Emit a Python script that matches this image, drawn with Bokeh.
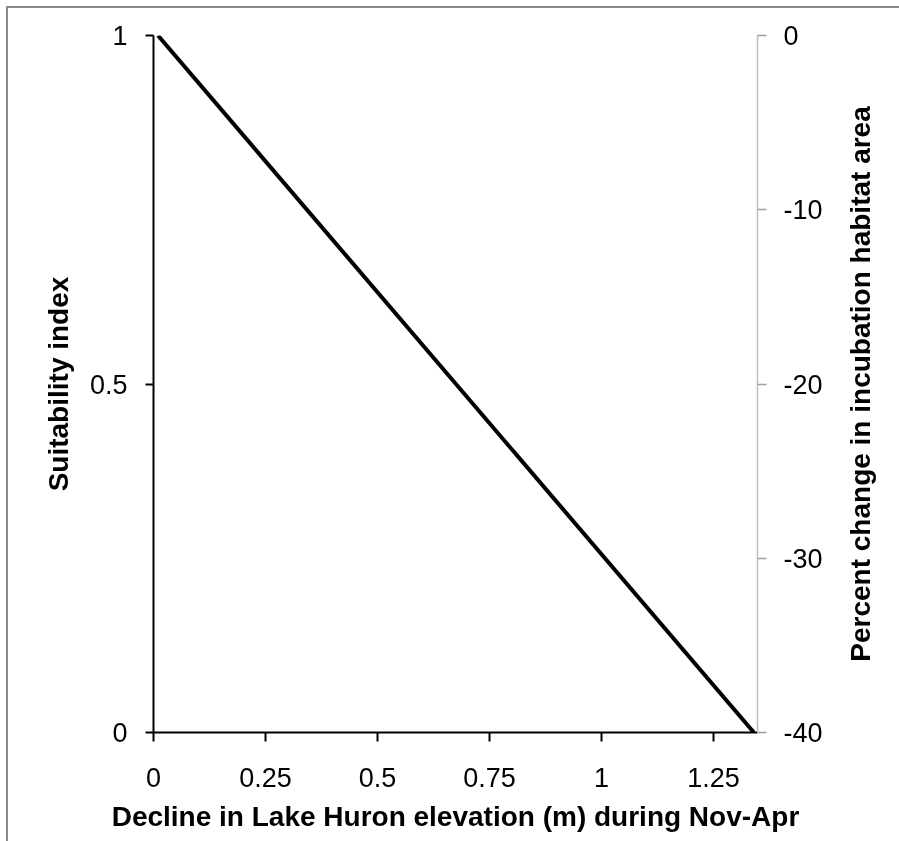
from bokeh.plotting import figure
from bokeh.models import LinearAxis, Range1d, FixedTicker
from bokeh.layouts import row
from bokeh.embed import file_html
from bokeh.resources import INLINE

# ---- data ----
decline_m = [0.01, 1.34]          # decline in Lake Huron elevation (m)
suitability = [1.0, 0.0]          # suitability index
x_ticks = [0, 0.25, 0.5, 0.75, 1, 1.25]
x_tick_labels = ["0", "0.25", "0.5", "0.75", "1", "1.25"]
y_ticks = [0, 0.5, 1]
y_tick_labels = ["0", "0.5", "1"]
pct_ticks = [-40, -30, -20, -10, 0]
pct_tick_labels = ["-40", "-30", "-20", "-10", "0"]
x_title = "Decline in Lake Huron elevation (m) during Nov-Apr"
y_title = "Suitability index"
pct_title = "Percent change in incubation habitat area"

FONT = "Liberation Sans"
TICK_SIZE = "27px"
TITLE_SIZE = "28px"
X_MAX = 1.348
PCT_MIN, PCT_MAX = -40, 0

# layout
H = 833
W_MAIN = 827
MB_L, MB_R, MB_T, MB_B = 145, W_MAIN - 749, 27, H - 724
W_SIDE = 64


def clean(fig):
    fig.grid.visible = False
    fig.outline_line_color = None
    fig.background_fill_color = "white"
    fig.border_fill_color = "white"


p = figure(width=W_MAIN, height=H, output_backend="svg", toolbar_location=None,
           x_range=Range1d(0, X_MAX), y_range=Range1d(0, 1),
           x_axis_location=None, y_axis_location=None,
           min_border_left=MB_L, min_border_right=MB_R,
           min_border_top=MB_T, min_border_bottom=MB_B)
clean(p)

p.line(decline_m, suitability, line_color="black", line_width=4)

# bottom axis
xa = LinearAxis(ticker=FixedTicker(ticks=x_ticks),
                major_label_overrides={t: l for t, l in zip(x_ticks, x_tick_labels)})
xa.axis_label = x_title
p.add_layout(xa, "below")

# left axis
ya = LinearAxis(ticker=FixedTicker(ticks=y_ticks),
                major_label_overrides={t: l for t, l in zip(y_ticks, y_tick_labels)})
ya.axis_label = y_title
p.add_layout(ya, "left")

# right axis (ticks and labels)
p.extra_y_ranges = {"pct": Range1d(PCT_MIN, PCT_MAX)}
ra = LinearAxis(y_range_name="pct", ticker=FixedTicker(ticks=pct_ticks),
                major_label_overrides={t: l for t, l in zip(pct_ticks, pct_tick_labels)})
p.add_layout(ra, "right")

for ax in (xa, ya, ra):
    ax.major_label_text_font = FONT
    ax.major_label_text_font_size = TICK_SIZE
    ax.major_label_text_color = "black"
    ax.axis_label_text_font = FONT
    ax.axis_label_text_font_size = TITLE_SIZE
    ax.axis_label_text_font_style = "bold"
    ax.axis_label_text_color = "black"
    ax.minor_tick_line_color = None
    ax.major_tick_in = 0
    ax.major_tick_out = 9

for ax in (xa, ya):
    ax.axis_line_color = "black"
    ax.axis_line_width = 2
    ax.major_tick_line_color = "black"
    ax.major_tick_line_width = 2
ya.major_tick_out = 8

ra.axis_line_color = "#bdbdbd"
ra.axis_line_width = 1.5
ra.major_tick_line_color = "#a0a0a0"
ra.major_tick_line_width = 1.5

xa.major_label_standoff = 26
xa.axis_label_standoff = 11
ya.major_label_standoff = 18
ya.axis_label_standoff = 13
ra.major_label_standoff = 17

# right-hand title: a narrow companion figure whose (left) axis label reads
# bottom to top and is centred on the same frame height
p2 = figure(width=W_SIDE, height=H, output_backend="svg", toolbar_location=None,
            x_range=Range1d(0, 1), y_range=Range1d(PCT_MIN, PCT_MAX),
            x_axis_location=None, y_axis_location=None,
            min_border_left=45, min_border_right=W_SIDE - 50,
            min_border_top=MB_T, min_border_bottom=MB_B)
clean(p2)
ta = LinearAxis(ticker=FixedTicker(ticks=[]))
ta.axis_label = pct_title
ta.axis_line_color = None
ta.major_tick_line_color = None
ta.minor_tick_line_color = None
ta.major_tick_out = 0
ta.major_tick_in = 0
ta.major_label_standoff = 0
ta.axis_label_standoff = 5
ta.axis_label_text_font = FONT
ta.axis_label_text_font_size = TITLE_SIZE
ta.axis_label_text_font_style = "bold"
ta.axis_label_text_color = "black"
p2.add_layout(ta, "left")

layout = row(p, p2)
layout.styles = {"position": "fixed", "top": "6px", "left": "6px",
                 "border-top": "2px solid #8a8a8a",
                 "border-left": "2px solid #8a8a8a"}

open("out.html", "w").write(file_html(layout, INLINE))
